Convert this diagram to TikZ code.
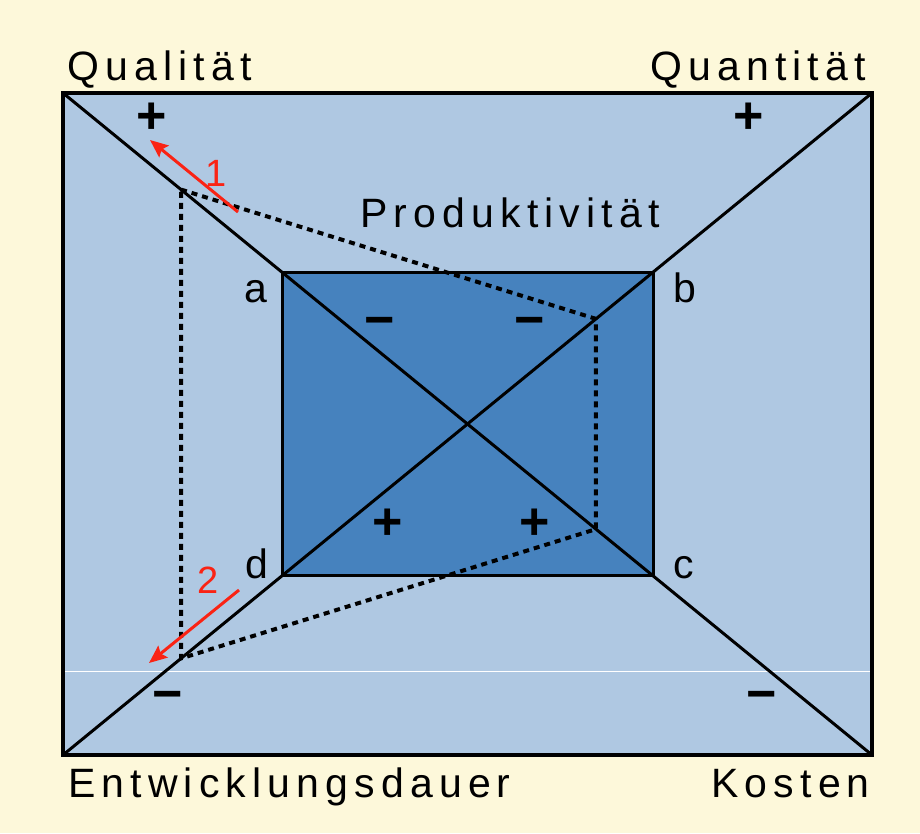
\documentclass[tikz,border=0pt]{standalone}
\usepackage{fontspec}
\setmainfont{Liberation Sans}
\newfontfamily\spacedfont[LetterSpace=15]{Liberation Sans}
\usetikzlibrary{positioning,arrows.meta,calc}
\definecolor{cream}{RGB}{253,248,218}
\definecolor{paleblue}{RGB}{175,200,226}
\definecolor{midblue}{RGB}{70,130,190}
\definecolor{arrowred}{RGB}{250,35,20}
\begin{document}
\begin{tikzpicture}[x=1pt, y=-1pt,
  axis/.style={font=\spacedfont\fontsize{41}{42}\selectfont, inner sep=0pt},
  corner/.style={font=\fontsize{41}{42}\selectfont, inner sep=0pt, anchor=base},
  sign/.style={font=\bfseries\fontsize{52}{52}\selectfont, inner sep=0pt, anchor=base},
  num/.style={text=arrowred, font=\fontsize{38}{38}\selectfont, inner sep=0pt},
  edge/.style={line width=3pt},
  trace/.style={line width=4pt, dash pattern=on 6pt off 5pt},
  move/.style={draw=arrowred, line width=3pt, -{Stealth[length=18pt,width=15pt,inset=3pt]}}]
\fill[cream] (0,0) rectangle (920,833);
% outer square and its corners
\coordinate (tl) at (63,93);
\coordinate (tr) at (872,93);
\coordinate (br) at (872,755);
\coordinate (bl) at (63,755);
\filldraw[fill=paleblue, line width=4pt] (tl) rectangle (br);
\draw[white, line width=1pt] (65,671) -- (870,671);
% inner square on the diagonals
\coordinate (a) at ($(tl)!0.2707!(br)$);
\coordinate (c) at ($(tl)!0.7293!(br)$);
\coordinate (b) at ($(bl)!0.7293!(tr)$);
\coordinate (d) at ($(bl)!0.2707!(tr)$);
\filldraw[fill=midblue, edge] (a) -- (b) -- (c) -- (d) -- cycle;
\draw[edge] (tl) -- (br);
\draw[edge] (bl) -- (tr);
% dotted trace
\coordinate (p1) at ($(tl)!0.1459!(br)$);
\coordinate (p2) at ($(bl)!0.6588!(tr)$);
\coordinate (p3) at ($(tl)!0.6588!(br)$);
\coordinate (p4) at ($(bl)!0.1459!(tr)$);
\draw[trace] (p1) -- (p2) -- (p3) -- (p4) -- cycle;
% red moves
\coordinate (m1s) at (238,212);
\coordinate (m1e) at (150,140);
\coordinate (m2s) at (239,590);
\coordinate (m2e) at (149,663);
\draw[move] (m1s) -- (m1e);
\draw[move] (m2s) -- (m2e);
\node[num] (n1) at (216,173) {1};
\node[num] (n2) at (208,580) {2};
% texts
\node[axis, anchor=base west] (qual) at (67,80) {Qualität};
\node[axis, anchor=base east] (quant) at (866,80) {Quantität};
\node[axis, anchor=base] (prod) at (510,227) {Produktivität};
\node[axis, anchor=base west] (dauer) at (68,797) {Entwicklungsdauer};
\node[axis, anchor=base east] (kost) at (870,797) {Kosten};
\node[corner] (la) at (256,302) {a};
\node[corner] (lb) at (685,302) {b};
\node[corner] (lc) at (684,578) {c};
\node[corner] (ld) at (257,578) {d};
% signs
\node[sign] (s1) at (152,133) {+};
\node[sign] (s2) at (749,133) {+};
\node[sign] (s3) at (388,539) {+};
\node[sign] (s4) at (535,539) {+};
\node[sign] (s5) at (380,337) {−};
\node[sign] (s6) at (530,337) {−};
\node[sign] (s7) at (168,711) {−};
\node[sign] (s8) at (762,711) {−};
\end{tikzpicture}
\end{document}
